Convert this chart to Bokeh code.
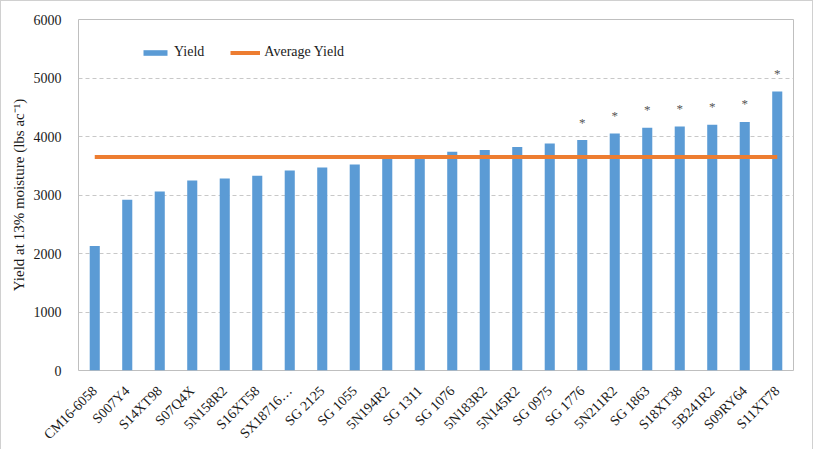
from bokeh.plotting import figure
from bokeh.models import ColumnDataSource, FixedTicker, Legend, LegendItem
from bokeh.core.properties import value
from bokeh.embed import file_html
from bokeh.resources import INLINE
from math import pi

hybrids = ["CM16-6058", "S007Y4", "S14XT98", "S07Q4X", "5N158R2", "S16XT58",
           "SX18716\u2026", "SG 2125", "SG 1055", "5N194R2", "SG 1311", "SG 1076",
           "5N183R2", "5N145R2", "SG 0975", "SG 1776", "5N211R2", "SG 1863",
           "S18XT38", "5B241R2", "S09RY64", "S11XT78"]
yields = [2130, 2920, 3060, 3250, 3280, 3330, 3420, 3470, 3520, 3660, 3660, 3740,
          3770, 3820, 3880, 3940, 4050, 4150, 4170, 4200, 4250, 4770]
significant = [False] * 15 + [True] * 7
average_yield = 3650
y_ticks = [0, 1000, 2000, 3000, 4000, 5000, 6000]

FONT = "Liberation Serif"
TXT = "#1a1a1a"
BLUE = "#5B9BD5"
ORANGE = "#ED7D31"
GRID = "#C8C8C8"

p = figure(x_range=hybrids, y_range=(0, 6000),
           frame_width=715, frame_height=351,
           output_backend="svg", toolbar_location=None,
           min_border_left=77, min_border_right=19, min_border_top=18,
           min_border_bottom=77)

src = ColumnDataSource(dict(x=hybrids, y=yields))
bars = p.vbar(x="x", top="y", width=0.31, source=src, fill_color=BLUE, line_color=None)

avg = p.segment(x0=[hybrids[0]], x1=[hybrids[-1]], y0=[average_yield], y1=[average_yield],
                line_color=ORANGE, line_width=4)

star_x = [h for h, s in zip(hybrids, significant) if s]
star_y = [v for v, s in zip(yields, significant) if s]
p.text(x=star_x, y=star_y, text=["*"] * len(star_x), text_font=value(FONT),
       text_font_size="13px", text_color="#555555", text_align="center",
       text_baseline="middle", y_offset=-18)

p.outline_line_color = "#BFBFBF"
p.background_fill_color = "white"
p.border_fill_color = "white"

p.xgrid.grid_line_color = None
p.ygrid.grid_line_color = GRID
p.ygrid.grid_line_dash = "4 3"
p.yaxis.ticker = FixedTicker(ticks=y_ticks)

for ax in (p.xaxis[0], p.yaxis[0]):
    ax.axis_line_color = None
    ax.major_tick_line_color = None
    ax.minor_tick_line_color = None
    ax.major_label_text_font = FONT
    ax.major_label_text_font_size = "14px"
    ax.major_label_text_color = TXT

p.yaxis.major_label_standoff = 11
p.xaxis.major_label_orientation = pi / 4
p.xaxis.major_label_standoff = 12
p.yaxis.axis_label = "Yield at 13% moisture (lbs ac\u207b\u00b9)"
p.yaxis.axis_label_text_font = FONT
p.yaxis.axis_label_text_font_size = "15px"
p.yaxis.axis_label_text_font_style = "normal"
p.yaxis.axis_label_text_color = TXT
p.yaxis.axis_label_standoff = 4

legend = Legend(items=[LegendItem(label="Yield", renderers=[bars]),
                       LegendItem(label="Average Yield", renderers=[avg])],
                orientation="horizontal", location=(62, 310))
legend.glyph_width = 30
legend.glyph_height = 7
legend.label_standoff = 4
legend.spacing = 26
legend.padding = 0
legend.margin = 0
legend.label_text_font = FONT
legend.label_text_font_size = "14px"
legend.label_text_color = TXT
legend.border_line_color = None
legend.background_fill_alpha = 0
p.add_layout(legend, "center")

p.styles = {"border": "1px solid #D0D0D0"}

open("out.html", "w").write(file_html(p, INLINE))
